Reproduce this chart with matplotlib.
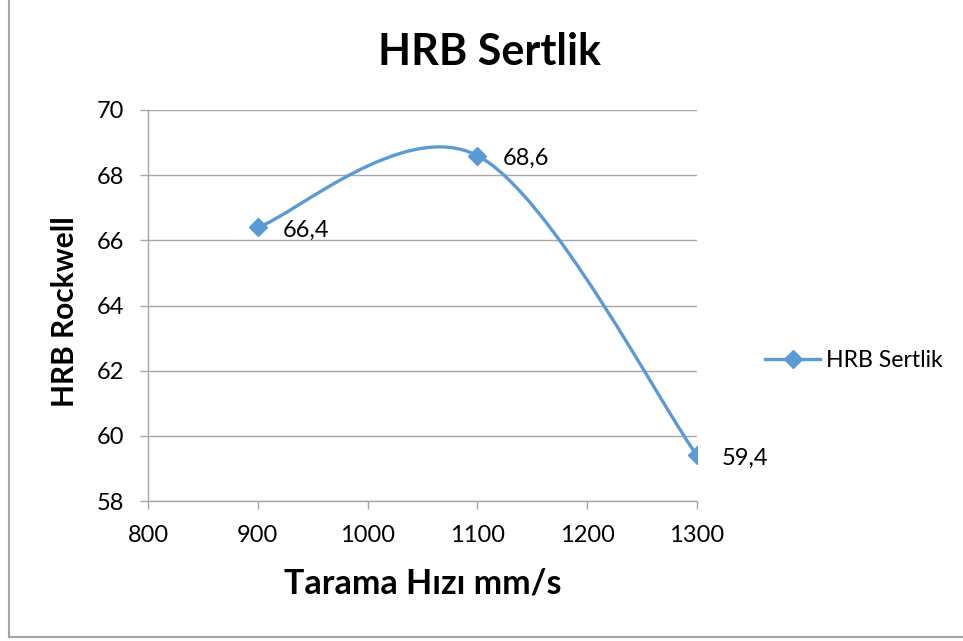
import matplotlib
matplotlib.use("Agg")
import matplotlib.pyplot as plt
from matplotlib.path import Path
from matplotlib.patches import PathPatch
from matplotlib.lines import Line2D

plt.rcParams['font.family'] = ['Lato', 'DejaVu Sans']

# data
hiz = [900, 1100, 1300]
sertlik = [66.4, 68.6, 59.4]
etiketler = ["66,4", "68,6", "59,4"]
seri_adi = "HRB Sertlik"

mavi = "#5B9BD5"
gri = "#A6A6A6"

fig = plt.figure(figsize=(9.63, 6.41), dpi=100)
ax = fig.add_axes([0.1537, 0.2184, 0.5701, 0.61])

# smoothed line like excel (bezier, catmull-rom style control points)
pts = list(zip(hiz, sertlik))
verts = [pts[0]]
codes = [Path.MOVETO]
for i in range(len(pts) - 1):
    p0 = pts[i - 1] if i > 0 else pts[i]
    p1 = pts[i]
    p2 = pts[i + 1]
    p3 = pts[i + 2] if i + 2 < len(pts) else pts[i + 1]
    c1 = (p1[0] + (p2[0] - p0[0]) / 6, p1[1] + (p2[1] - p0[1]) / 6)
    c2 = (p2[0] - (p3[0] - p1[0]) / 6, p2[1] - (p3[1] - p1[1]) / 6)
    verts += [c1, c2, p2]
    codes += [Path.CURVE4] * 3
ax.add_patch(PathPatch(Path(verts, codes), fill=False, edgecolor=mavi, lw=2.4,
                       capstyle='round', zorder=3))
ax.plot(hiz, sertlik, linestyle='none', marker='D', markersize=9, color=mavi, zorder=4)

for x, y, t in zip(hiz, sertlik, etiketler):
    ax.annotate(t, (x, y), xytext=(18, -2), textcoords='offset points',
                ha='left', va='center', fontsize=17, color='#000000')

ax.set_xlim(800, 1300)
ax.set_ylim(58, 70)
ax.set_xticks(range(800, 1301, 100))
ax.set_yticks(range(58, 71, 2))
ax.yaxis.grid(True, color=gri, lw=1)
ax.set_axisbelow(True)
for s in ['top', 'right']:
    ax.spines[s].set_visible(False)
for s in ['left', 'bottom']:
    ax.spines[s].set_color(gri)
    ax.spines[s].set_linewidth(1)
ax.tick_params(axis='both', colors=gri, labelcolor='#000000', labelsize=17,
               length=6, width=1)
ax.tick_params(axis='x', pad=11)
ax.tick_params(axis='y', pad=11)

fig.suptitle("HRB Sertlik", x=489 / 963, y=1 - 52 / 641, va='center',
             fontsize=31, fontweight='bold')
ax.set_xlabel("Tarama Hızı mm/s", fontsize=24.5, fontweight='bold', va='center')
ax.xaxis.set_label_coords(0.5, -0.2097)
ax.set_ylabel("HRB Rockwell", fontsize=21.5, fontweight='bold', va='center')
ax.yaxis.set_label_coords(-0.1512, 0.4834)

leg_h = Line2D([], [], color=mavi, lw=2.4, marker='D', markersize=9)
ax.legend([leg_h], [seri_adi], loc='center left', bbox_to_anchor=(1.124, 0.36),
          frameon=False, fontsize=16.6, handlelength=2.4, handletextpad=0.23,
          borderaxespad=0, borderpad=0)

# outer chart border
fig.add_artist(Line2D([8.5 / 963, 8.5 / 963], [1 - 637 / 641, 1], color=gri, lw=1.5))
fig.add_artist(Line2D([8.5 / 963, 1], [1 - 637 / 641, 1 - 637 / 641], color=gri, lw=1.5))

fig.savefig("out.png", dpi=100)
